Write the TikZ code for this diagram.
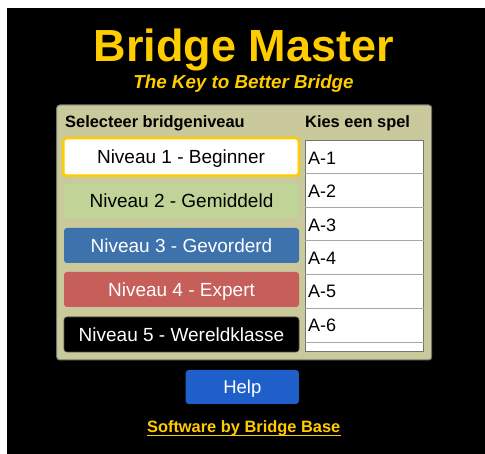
\documentclass[tikz,border=0pt]{standalone}
\usepackage{fontspec}
\setmainfont{Liberation Sans}
\definecolor{yel}{HTML}{FFCC00}
\definecolor{panelc}{HTML}{C9C99B}
\definecolor{lvgreen}{HTML}{BFD496}
\definecolor{lvblue}{HTML}{3E72AD}
\definecolor{lvred}{HTML}{C65E5A}
\definecolor{helpblue}{HTML}{1F5FC9}
\begin{document}
\begin{tikzpicture}[x=1pt,y=-1pt,
  lvbox/.style={rounded corners=3pt, minimum width=235pt, minimum height=35pt, inner sep=0pt, text height=13.6pt, text depth=0pt, font=\fontsize{19}{19}\selectfont},
  hdr/.style={anchor=base west, inner sep=0pt, font=\fontsize{16.4}{16.4}\selectfont\bfseries},
  item/.style={anchor=base west, inner sep=0pt, font=\fontsize{18}{18}\selectfont},
  sep/.style={draw=black!35, line width=1pt}]
\useasboundingbox (0,0) rectangle (485,454);
\fill[white] (0,0) rectangle (485,454);
\fill[black] (7,8) rectangle (485,454);
% title
\node[anchor=base, inner sep=0pt, text=yel, font=\fontsize{45}{45}\selectfont\bfseries] (title) at (244,62) {Bridge Master};
\node[anchor=base, inner sep=0pt, text=yel, font=\fontsize{18.8}{18.8}\selectfont\bfseries\itshape] (subtitle) at (243.5,89) {The Key to Better Bridge};
% panel
\node[draw=black!55, line width=1pt, fill=panelc, rounded corners=3pt, minimum width=375pt, minimum height=255pt, inner sep=0pt] (panel) at (244.2,232.5) {};
\node[hdr] (hdrlevel) at (65,128) {Selecteer bridgeniveau};
\node[hdr] (hdrgame) at (305,128) {Kies een spel};
% level buttons
\node[lvbox, draw=yel, line width=2.5pt, fill=white, minimum width=235.5pt, minimum height=37.5pt] (lv1) at (181,157) {Niveau 1 - Beginner};
\node[lvbox, fill=lvgreen] (lv2) at (181.5,201) {Niveau 2 - Gemiddeld};
\node[lvbox, fill=lvblue, text=white] (lv3) at (181.5,245.5) {Niveau 3 - Gevorderd};
\node[lvbox, fill=lvred, text=white] (lv4) at (181.5,289.5) {Niveau 4 - Expert};
\node[lvbox, fill=black, draw=black!70, line width=0.6pt, text=white] (lv5) at (181.5,334.5) {Niveau 5 - Wereldklasse};
% game list
\node[draw=black!55, line width=0.8pt, fill=white, minimum width=117.7pt, minimum height=210.7pt, inner sep=0pt, anchor=north west] (list) at (305,140) {};
\foreach \k in {0,...,5}{
  \pgfmathsetmacro{\yy}{173.5+33.75*\k}
  \draw[sep] (list.west |- 0,\yy) coordinate (sl\k) -- (list.east |- 0,\yy) coordinate (sr\k);
}
\foreach \k in {1,...,6}{
  \node[item] (a\k) at (308,{164.3+33.4*(\k-1)}) {A-\k};
}
% help button
\node[fill=helpblue, rounded corners=3pt, minimum width=113.3pt, minimum height=34pt, inner sep=0pt, text=white, text height=13.3pt, text depth=0pt, font=\fontsize{18.5}{18.5}\selectfont] (help) at (242.3,387) {Help};
% footer
\node[anchor=base, inner sep=0pt, text=yel, font=\fontsize{16.4}{16.4}\selectfont\bfseries] (footer) at (243.7,432.7) {Software by Bridge Base};
\draw[yel, line width=1.3pt] ([yshift=-2.6pt]footer.base west) -- ([yshift=-2.6pt]footer.base east);
\end{tikzpicture}
\end{document}
